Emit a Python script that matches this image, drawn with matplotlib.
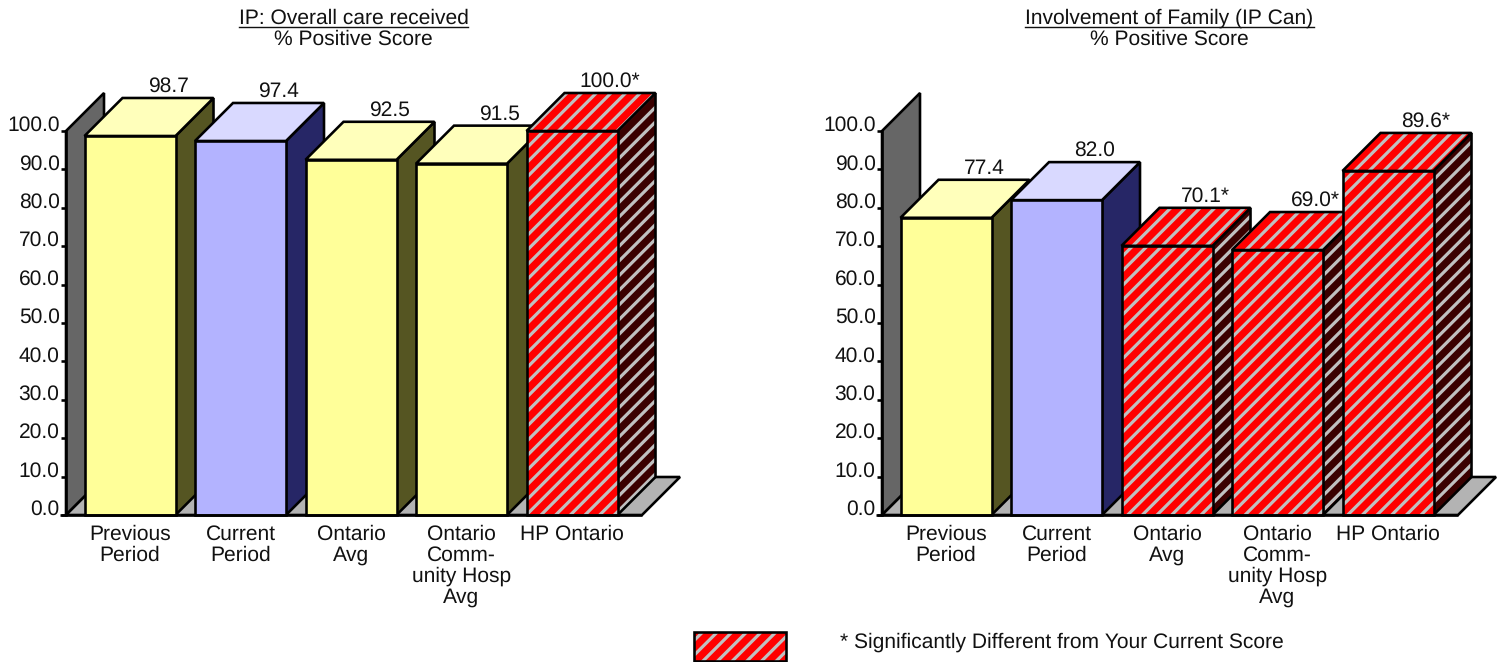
import matplotlib
matplotlib.use('Agg')
import matplotlib.pyplot as plt
from matplotlib.patches import Polygon, Rectangle

categories = ['Previous\nPeriod', 'Current\nPeriod', 'Ontario\nAvg',
              'Ontario\nComm-\nunity Hosp\nAvg', 'HP Ontario']
yticks = [0, 10, 20, 30, 40, 50, 60, 70, 80, 90, 100]

care_title = 'IP: Overall care received'
care_values = [98.7, 97.4, 92.5, 91.5, 100.0]
care_signif = [False, False, False, False, True]

family_title = 'Involvement of Family (IP Can)'
family_values = [77.4, 82.0, 70.1, 69.0, 89.6]
family_signif = [False, False, True, True, True]

legend_text = '* Significantly Different from Your Current Score'

# hatch tile follows the dpi, 88 gives the stripe spacing we want
DPI = 88
W, H = 1503, 662
PT = 72 / DPI
FS = 21.0 * PT
LW = 2.6 * PT
INK = '#111111'

plt.rcParams['font.family'] = ['Liberation Sans', 'DejaVu Sans']
plt.rcParams['hatch.linewidth'] = 3.2 * PT
plt.rcParams['text.hinting'] = 'no_hinting'
plt.rcParams['text.hinting_factor'] = 1

# 3d box sizes, pixels per unit on each axis
STEP = 110.5
UNIT = 3.84
DEPTH = 38
HALF = 45.5 / STEP
DX = DEPTH / STEP
DY = DEPTH / UNIT

YELLOW = ('#FFFF99', '#FFFFBB', '#555522')
BLUE = ('#B3B3FF', '#D9D9FF', '#262666')
RED = ('#FF0000', '#FF0000', '#3A0000')
SILVER = '#C0C0C0'


def face(ax, pts, color, hatched=False, z=2):
    if hatched:
        ax.add_patch(Polygon(pts, facecolor=color, edgecolor=SILVER, hatch='//',
                             lw=0, clip_on=False, zorder=z))
    else:
        ax.add_patch(Polygon(pts, facecolor=color, edgecolor='none',
                             clip_on=False, zorder=z))
    ax.add_patch(Polygon(pts, fill=False, edgecolor='black', lw=LW,
                         joinstyle='miter', clip_on=False, zorder=z))


def box(ax, i, v, colors, hatched):
    l, r = i - HALF, i + HALF
    front, top, side = colors
    face(ax, [(r, 0), (r + DX, DY), (r + DX, v + DY), (r, v)], side, hatched)
    face(ax, [(l, v), (l + DX, v + DY), (r + DX, v + DY), (r, v)], top, hatched)
    face(ax, [(l, 0), (r, 0), (r, v), (l, v)], front, hatched)


def panel(left_px, title, title_x, values, signif):
    # x is in category units, y in percent, bar 0 is centred 64 px from the left
    width = 614
    bottom = 515
    height = 422
    ax = fig.add_axes([left_px / W, (H - bottom) / H, width / W, height / H])
    ax.set_xlim(-64 / STEP, (width - 64) / STEP)
    ax.set_ylim(0, height / UNIT)
    ax.patch.set_visible(False)
    for s in ['top', 'right', 'bottom']:
        ax.spines[s].set_visible(False)
    ax.spines['left'].set_bounds(0, 100)
    ax.spines['left'].set_linewidth(LW)

    ax.set_yticks(yticks)
    ax.set_yticklabels(['%.1f' % t for t in yticks], fontsize=FS, color=INK, va='baseline')
    ax.tick_params(axis='y', length=5.5 * PT, width=LW, pad=1 * PT)
    ax.set_xticks(range(len(categories)))
    ax.set_xticklabels(categories, fontsize=FS, color=INK, linespacing=1.07)
    ax.tick_params(axis='x', length=0, pad=10 * PT)

    # back wall and floor
    x0 = ax.get_xlim()[0]
    xf = 512 / STEP
    face(ax, [(x0, 0), (x0 + DX, DY), (x0 + DX, 100 + DY), (x0, 100)], '#666666', z=1)
    face(ax, [(x0, 0), (x0 + DX, DY), (xf + DX, DY), (xf, 0)], '#B3B3B3', z=1)

    for i, v in enumerate(values):
        if signif[i]:
            colors = RED
        elif i == 1:
            colors = BLUE
        else:
            colors = YELLOW
        box(ax, i, v, colors, signif[i])
        label = '%.1f' % v + ('*' if signif[i] else '')
        ax.annotate(label, (i + DX, v + DY), xytext=(0, 6 * PT), textcoords='offset points',
                    ha='center', va='baseline', fontsize=FS, color=INK, zorder=5)
    ax.plot([x0 - 6.5 / STEP, xf], [0, 0], color='black', lw=LW,
            clip_on=False, zorder=3, solid_capstyle='butt')

    t = fig.text(title_x / W, 1 - 24 / H, title, ha='center', va='baseline', fontsize=FS, color=INK)
    fig.text(title_x / W, 1 - 45 / H, '% Positive Score', ha='center', va='baseline',
             fontsize=FS, color=INK)
    bb = t.get_window_extent(fig.canvas.get_renderer())
    fig.add_artist(plt.Line2D([bb.x0 / W, bb.x1 / W], [1 - 27 / H, 1 - 27 / H],
                              color=INK, lw=1.4 * PT))


fig = plt.figure(figsize=((W + 0.01) / DPI, (H + 0.01) / DPI), dpi=DPI, facecolor='white')

panel(66, care_title, 353.5, care_values, care_signif)
panel(882, family_title, 1169.5, family_values, family_signif)

# legend swatch at the bottom
sw = [694 / W, 1 / H]
sw_size = (92 / W, 29 / H)
fig.add_artist(Rectangle(sw, *sw_size, transform=fig.transFigure, facecolor='#FF0000',
                         edgecolor=SILVER, hatch='//', lw=0))
fig.add_artist(Rectangle(sw, *sw_size, transform=fig.transFigure, fill=False,
                         edgecolor='black', lw=LW))
fig.text(840 / W, 1 - 648 / H, legend_text, ha='left', va='baseline', fontsize=FS, color=INK)

fig.savefig('out.png', dpi=DPI)
